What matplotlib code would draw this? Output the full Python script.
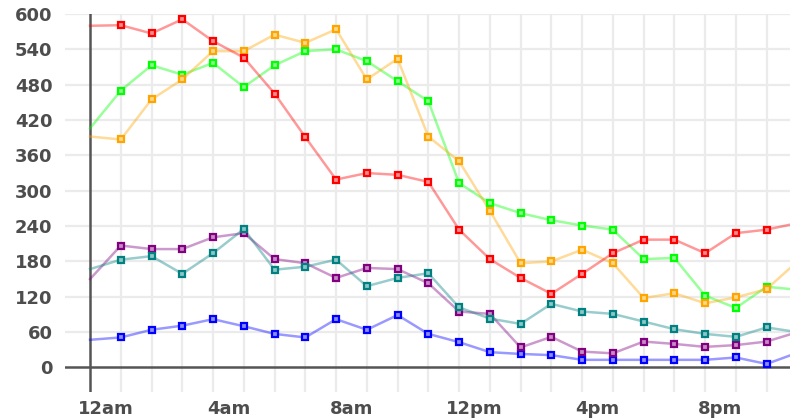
import numpy as np
import matplotlib
matplotlib.use("Agg")
import matplotlib.pyplot as plt
from matplotlib import colors

#### DATA ####
hours = list(range(24))
tick_hours = [0, 4, 8, 12, 16, 20]
tick_labels = ["12am", "4am", "8am", "12pm", "4pm", "8pm"]
y_ticks = [0, 60, 120, 180, 240, 300, 360, 420, 480, 540, 600]

red = [580, 581, 567, 591, 554, 526, 465, 391, 319, 330, 327, 315,
       234, 184, 152, 125, 159, 194, 217, 217, 194, 228, 234, 245]
orange = [392, 387, 455, 489, 537, 537, 565, 551, 574, 489, 524, 392,
          350, 266, 177, 180, 200, 177, 118, 126, 109, 119, 133, 180]
green = [406, 470, 513, 497, 517, 476, 513, 537, 540, 520, 486, 452,
         313, 279, 262, 250, 241, 234, 184, 186, 122, 101, 137, 132]
teal = [167, 183, 189, 159, 194, 235, 166, 171, 183, 138, 152, 160,
        102, 83, 74, 108, 95, 91, 78, 65, 57, 52, 68, 60]
purple = [150, 207, 201, 201, 221, 228, 184, 177, 152, 169, 167, 143,
          95, 91, 34, 52, 27, 24, 44, 40, 35, 38, 44, 60]
blue = [47, 51, 64, 71, 82, 70, 57, 51, 82, 64, 89, 57,
        43, 26, 23, 21, 13, 13, 13, 13, 13, 17, 6, 25]

series = [(blue, "#0000ff"), (purple, "#800080"), (teal, "#008080"),
          (green, "#00ff00"), (orange, "#ffa500"), (red, "#ff0000")]

#### FIGURE ####
fig = plt.figure(figsize=(7.9, 4.19), dpi=100)
ax = fig.add_axes([65 / 790, 27 / 419, 725 / 790, 378 / 419])
ax.set_xlim(-0.814, 22.76)
ax.set_ylim(-41.6, 600)
for s in ax.spines.values():
    s.set_visible(False)

grid_c = "#ebebeb"
for v in y_ticks[1:]:
    ax.axhline(v, color=grid_c, lw=1.6, zorder=0)
for h in hours[1:]:
    ax.axvline(h, color=grid_c, lw=1.6, zorder=0)

# axis lines
ax.axhline(0, color="#555555", lw=1.8, zorder=1)
ax.axvline(0, color="#555555", lw=1.8, zorder=1)

for vals, c in series:
    light = colors.to_rgba(c, 1.0)
    face = tuple(0.55 + 0.45 * x for x in light[:3])
    ax.plot(hours, vals, color=c, lw=1.8, alpha=0.4, zorder=2)
    ax.plot(hours[1:], vals[1:], ls="none", marker="s", ms=4.2,
            mec=c, mfc=face, mew=1.6, zorder=3)

ax.set_yticks(y_ticks)
ax.set_yticklabels([str(v) for v in y_ticks])
ax.set_xticks([h + 0.5 for h in tick_hours])
ax.set_xticklabels(tick_labels)
ax.tick_params(axis="y", length=0, pad=9, labelsize=13, labelcolor="#4d4d4d")
ax.tick_params(axis="x", length=0, pad=6, labelsize=13, labelcolor="#4d4d4d")
for lbl in ax.get_xticklabels() + ax.get_yticklabels():
    lbl.set_fontweight("bold")

fig.savefig("out.png", dpi=100)
